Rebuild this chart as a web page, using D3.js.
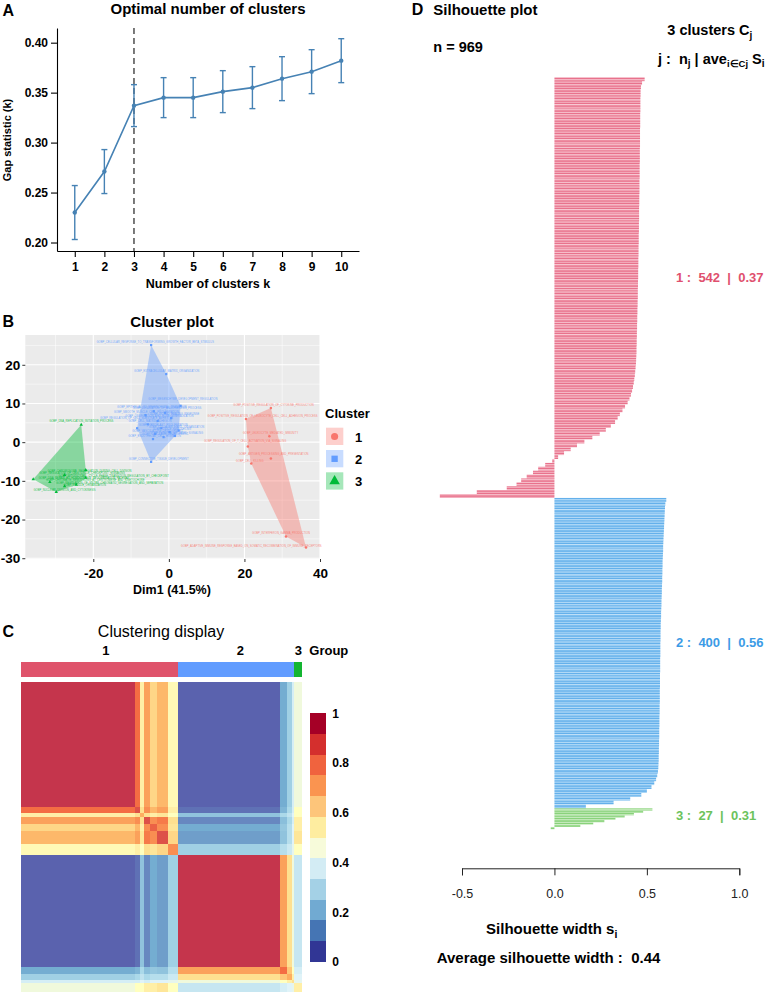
<!DOCTYPE html>
<html><head><meta charset="utf-8">
<script src="https://cdn.jsdelivr.net/npm/d3@7"></script>
<style>body{margin:0;background:#fff}svg{display:block}</style>
</head><body><svg id="c" width="768" height="995"></svg>
<script>
// ---------------- DATA ----------------
// Panel A: gap statistic
const kValues=[1,2,3,4,5,6,7,8,9,10];
const gapStat=[0.230,0.271,0.337,0.345,0.345,0.351,0.355,0.364,0.371,0.382];
const gapSE=[0.027,0.022,0.021,0.020,0.020,0.021,0.021,0.022,0.022,0.022];
const optimalK=3;
const gapTicks=[0.20,0.25,0.30,0.35,0.40];

// Panel B: cluster plot (Dim1, Dim2) per term, label centres
const clusterNames=["1","2","3"];
const pts1=[[27.0,8.8],[20.4,6.0],[26.6,1.5],[20.9,-1.1],[27.0,-4.2],[21.8,-5.5],[31.0,-24.4],[36.3,-27.2]];
const lab1=[[27.7,9.4],[24.8,6.6],[26.9,2.1],[20.2,0.0],[27.7,-3.4],[21.4,-5.0],[29.7,-23.8],[21.8,-27.0]];
const terms1=["GOBP_POSITIVE_REGULATION_OF_CYTOKINE_PRODUCTION","GOBP_POSITIVE_REGULATION_OF_LEUKOCYTE_CELL_CELL_ADHESION_PROCESS","GOBP_LEUKOCYTE_MEDIATED_IMMUNITY","GOBP_REGULATION_OF_T_CELL_ACTIVATION_VIA_SIGNALING","GOBP_ANTIGEN_PROCESSING_AND_PRESENTATION","GOBP_CELL_KILLING","GOBP_INTERFERON_GAMMA_PRODUCTION","GOBP_ADAPTIVE_IMMUNE_RESPONSE_BASED_ON_SOMATIC_RECOMBINATION_OF_IMMUNE_RECEPTORS"];
const pts2=[[-4.7,25.1],[-0.7,17.6],[3.1,9.4],[2.6,3.0],[-8.4,3.6],[-4.7,-5.1],[-4.0,8.0],[-1.0,7.6],[-6.2,7.0],[0.6,6.2],[-3.0,5.5],[-5.6,4.6],[-2.0,3.6],[0.2,2.6],[-3.6,2.1],[-1.4,1.3],[1.6,1.6],[-4.2,0.8]];
const lab2=[[-3.6,25.6],[-0.6,18.1],[3.7,11.0],[2.0,3.6],[-8.6,6.1],[-2.7,-4.6],[-4.5,8.8],[-0.5,8.5],[-6.0,7.6],[1.5,7.0],[-2.5,6.4],[-5.0,5.2],[-1.5,4.2],[0.8,3.2],[-3.0,2.7],[-1.0,1.9],[2.0,2.2],[-3.8,1.4]];
const terms2=["GOBP_CELLULAR_RESPONSE_TO_TRANSFORMING_GROWTH_FACTOR_BETA_STIMULUS","GOBP_EXTRACELLULAR_MATRIX_ORGANIZATION","GOBP_MESENCHYME_DEVELOPMENT_REGULATION","GOBP_COLLAGEN_FIBRIL_ORGANIZATION","GOBP_REGULATION_OF_CELL_SUBSTRATE_ADHESION","GOBP_CONNECTIVE_TISSUE_DEVELOPMENT","GOBP_EPITHELIAL_TO_MESENCHYMAL_TRANSITION","GOBP_REGULATION_OF_ANGIOGENESIS_PROCESS","GOBP_SMOOTH_MUSCLE_CELL_PROLIFERATION","GOBP_WOUND_HEALING_RESPONSE","GOBP_OSSIFICATION_AND_BONE_MINERALIZATION","GOBP_CELL_MATRIX_ADHESION","GOBP_FIBROBLAST_PROLIFERATION","GOBP_TISSUE_REMODELING","GOBP_VASCULATURE_DEVELOPMENT","GOBP_CARTILAGE_DEVELOPMENT","GOBP_INTEGRIN_MEDIATED_SIGNALING","GOBP_ENDOTHELIAL_CELL_MIGRATION"];
const pts3=[[-23.2,4.5],[-22.0,-7.2],[-22.0,-9.2],[-35.9,-9.6],[-24.5,-11.0],[-29.8,-12.9],[-27.6,-11.4],[-27.6,-8.5],[-31.5,-10.3]];
const lab3=[[-23.2,5.2],[-21.0,-7.6],[-14.6,-9.0],[-22.5,-9.5],[-15.7,-10.7],[-27.6,-12.5],[-22.3,-11.3],[-23.0,-8.1],[-19.5,-10.0]];
const terms3=["GOBP_DNA_REPLICATION_INITIATION_PROCESS","GOBP_CHROMOSOME_SEGREGATION_DURING_CELL_DIVISION","GOBP_MITOTIC_CELL_CYCLE_PHASE_TRANSITION_REGULATION_BY_CHECKPOINT","GOBP_DNA_REPAIR_BY_HOMOLOGOUS_RECOMBINATION_PATHWAY","GOBP_REGULATION_OF_SISTER_CHROMATID_SEGREGATION_AND_SEPARATION","GOBP_NUCLEAR_DIVISION_AND_CYTOKINESIS","GOBP_SPINDLE_ORGANIZATION","GOBP_REGULATION_OF_CELL_CYCLE_CHECKPOINT_SIGNALING","GOBP_CHROMATIN_REMODELING_AT_CENTROMERE_AND_KINETOCHORE"];
const dimXTicks=[-20,0,20,40];
const dimYTicks=[-30,-20,-10,0,10,20];
const dimXLabel="Dim1 (41.5%)";

// Panel C: consensus matrix, summarised by ordered sample segments
const segSizes=[392,17,14,21,24,38,36,349,24,17,10,27];
const segGroup=[1,1,1,1,1,1,1,2,2,2,2,3];
const consensus=[
 [0.90,0.80,0.55,0.72,0.62,0.68,0.52,0.10,0.20,0.28,0.38,0.45],
 [0.80,0.85,0.60,0.75,0.68,0.72,0.55,0.12,0.22,0.30,0.38,0.50],
 [0.55,0.60,0.70,0.60,0.55,0.58,0.50,0.25,0.30,0.34,0.40,0.50],
 [0.72,0.75,0.60,0.85,0.75,0.78,0.60,0.15,0.24,0.30,0.38,0.55],
 [0.62,0.68,0.55,0.75,0.82,0.75,0.58,0.20,0.26,0.32,0.40,0.55],
 [0.68,0.72,0.58,0.78,0.75,0.85,0.62,0.18,0.25,0.32,0.40,0.58],
 [0.52,0.55,0.50,0.60,0.58,0.62,0.75,0.28,0.32,0.36,0.42,0.50],
 [0.10,0.12,0.25,0.15,0.20,0.18,0.28,0.90,0.72,0.60,0.45,0.35],
 [0.20,0.22,0.30,0.24,0.26,0.25,0.32,0.72,0.80,0.65,0.50,0.38],
 [0.28,0.30,0.34,0.30,0.32,0.32,0.36,0.60,0.65,0.70,0.55,0.40],
 [0.38,0.38,0.40,0.38,0.40,0.40,0.42,0.45,0.50,0.55,0.60,0.42],
 [0.45,0.50,0.50,0.55,0.55,0.58,0.50,0.35,0.38,0.40,0.42,0.55]];
const legendTicks=[0,0.2,0.4,0.6,0.8,1];

// Panel D: silhouette widths (sorted, each value = an equal block of samples)
const silSizes=[542,400,27];
const silAvg=["0.37","0.56","0.31"];
const silOverall="0.44";
const nTotal=969;
const sil1=[0.488,0.474,0.468,
 0.466,0.466,0.465,0.465,0.465,0.465,0.464,0.464,
 0.464,0.464,0.463,0.463,0.463,0.463,0.463,0.462,0.462,0.462,
 0.462,0.461,0.461,0.461,0.461,0.460,0.460,0.460,0.460,0.459,
 0.459,0.459,0.458,0.458,0.458,0.458,0.457,0.457,0.457,0.456,
 0.456,0.456,0.455,0.455,0.455,0.454,0.454,0.454,0.453,0.453,
 0.453,0.452,0.452,0.451,0.451,0.451,0.450,0.450,0.449,0.449,
 0.448,0.448,0.447,0.447,0.446,0.446,0.445,0.445,0.444,0.444,
 0.443,0.442,0.441,0.439,0.437,0.435,0.432,0.429,0.425,0.420,
 0.414,0.406,0.396,0.382,0.368,0.354,0.342,0.328,0.305,0.278,
 0.245,0.205,0.162,0.122,0.088,0.052,0.020,
 -0.012,-0.050,-0.088,-0.116,-0.150,-0.180,-0.205,-0.258,-0.420,-0.620];
const sil2=[0.605,0.600,
 0.598,0.597,0.596,0.595,0.594,0.593,0.592,0.591,0.590,0.589,0.588,0.588,0.587,0.586,
 0.585,0.585,0.584,0.584,0.583,0.583,0.582,0.581,0.581,0.580,0.579,0.579,0.578,0.577,0.577,0.576,0.575,0.575,
 0.574,0.574,0.574,0.573,0.573,0.573,0.573,0.572,0.572,0.572,0.572,0.571,0.571,0.571,0.571,0.570,0.570,
 0.570,0.570,0.569,0.569,0.569,0.568,0.568,0.568,0.567,0.567,0.567,0.566,0.566,0.565,0.565,0.564,0.564,
 0.563,0.562,0.560,0.556,0.550,0.540,0.525,0.500,0.470,0.410,0.320,0.170];
const sil3=[0.53,0.48,0.43,0.38,0.33,0.27,0.21,0.14,-0.02];
const silTicks=[-0.5,0.0,0.5,1.0];

// ---------------- DRAWING ----------------
const FONT='"Liberation Sans", Arial, Helvetica, sans-serif';
const svg=d3.select("#c").attr("font-family",FONT);
const defs=svg.append("defs");
function txt(g,x,y,s,size,weight,anchor,fill){
  return g.append("text").attr("x",x).attr("y",y).text(s).attr("font-size",size)
   .attr("font-weight",weight||"normal").attr("text-anchor",anchor||"start").attr("fill",fill||"#000");
}
function styleAxis(g,size,weight,color,lineColor){
  g.attr("font-family",FONT).attr("font-size",size).attr("font-weight",weight);
  g.selectAll("text").attr("fill",color);
  g.selectAll("line,path").attr("stroke",lineColor);
}

// ===== Panel A =====
const gA=svg.append("g");
const xA=d3.scaleLinear().domain([0.4,10.6]).range([57,359]);
const yA=d3.scaleLinear().domain([0.1915,0.4147]).range([251,28]);
const ax=gA.append("g").attr("transform","translate(0,251)")
 .call(d3.axisBottom(xA).tickValues(kValues).tickSize(6).tickSizeOuter(0).tickPadding(5).tickFormat(d3.format("d")));
styleAxis(ax,12,"bold","#000","#000"); ax.selectAll("path,line").attr("stroke-width",1.1);
const ay=gA.append("g").attr("transform","translate(57,0)")
 .call(d3.axisLeft(yA).tickValues(gapTicks).tickSize(6).tickSizeOuter(0).tickPadding(3).tickFormat(d3.format(".2f")));
styleAxis(ay,12,"bold","#000","#000"); ay.selectAll("path,line").attr("stroke-width",1.1);
gA.append("line").attr("x1",xA(optimalK)).attr("x2",xA(optimalK)).attr("y1",yA.range()[1]).attr("y2",yA.range()[0])
 .attr("stroke","#333").attr("stroke-width",1.3).attr("stroke-dasharray","6,4");
const blue="#4682B4";
gA.append("path").datum(kValues).attr("fill","none").attr("stroke",blue).attr("stroke-width",1.6)
 .attr("d",d3.line().x(k=>xA(k)).y((k,i)=>yA(gapStat[i])));
kValues.forEach((k,i)=>{
  const x=xA(k),lo=yA(gapStat[i]-gapSE[i]),hi=yA(gapStat[i]+gapSE[i]);
  gA.append("line").attr("x1",x).attr("x2",x).attr("y1",lo).attr("y2",hi).attr("stroke",blue).attr("stroke-width",1.4);
  [lo,hi].forEach(y=>gA.append("line").attr("x1",x-3).attr("x2",x+3).attr("y1",y).attr("y2",y).attr("stroke",blue).attr("stroke-width",1.4));
  gA.append("circle").attr("cx",x).attr("cy",yA(gapStat[i])).attr("r",2.2).attr("fill",blue);
});
txt(gA,2.5,15.5,"A",16,"bold");
txt(gA,208,14,"Optimal number of clusters",15,"bold","middle");
txt(gA,208,288.3,"Number of clusters k",12.5,"bold","middle");
gA.append("text").attr("transform","translate(11,140) rotate(-90)").attr("text-anchor","middle")
 .attr("font-size",11).attr("font-weight","bold").text("Gap statistic (k)");

// ===== Panel B =====
const gB=svg.append("g");
const xB=d3.scaleLinear().domain([-38.0,40]).range([25.3,320]);
const yB=d3.scaleLinear().domain([-30.2,27.7]).range([559,335]);
gB.append("rect").attr("x",xB.range()[0]).attr("y",yB.range()[1]).attr("width",xB.range()[1]-xB.range()[0])
 .attr("height",yB.range()[0]-yB.range()[1]).attr("fill","#EBEBEB");
const minorX=[-30,-10,10,30], minorY=[-25,-15,-5,5,15,25];
minorX.forEach(v=>gB.append("line").attr("x1",xB(v)).attr("x2",xB(v)).attr("y1",yB.range()[1]).attr("y2",yB.range()[0]).attr("stroke","#fff").attr("stroke-width",0.5));
minorY.forEach(v=>gB.append("line").attr("y1",yB(v)).attr("y2",yB(v)).attr("x1",xB.range()[0]).attr("x2",xB.range()[1]).attr("stroke","#fff").attr("stroke-width",0.5));
dimXTicks.forEach(v=>gB.append("line").attr("x1",xB(v)).attr("x2",xB(v)).attr("y1",yB.range()[1]).attr("y2",yB.range()[0]).attr("stroke","#fff").attr("stroke-width",1.1));
dimYTicks.forEach(v=>gB.append("line").attr("y1",yB(v)).attr("y2",yB(v)).attr("x1",xB.range()[0]).attr("x2",xB.range()[1]).attr("stroke","#fff").attr("stroke-width",1.1));
const cCols=["#F8766D","#619CFF","#00BA38"];
const allPts=[pts1,pts2,pts3], allLab=[lab1,lab2,lab3], allTerms=[terms1,terms2,terms3];
const symTypes=[d3.symbolCircle,d3.symbolSquare,d3.symbolTriangle];
allPts.forEach((pts,ci)=>{
  const hull=d3.polygonHull(pts.map(p=>[xB(p[0]),yB(p[1])]));
  gB.append("path").attr("d","M"+hull.join("L")+"Z").attr("fill",cCols[ci]).attr("fill-opacity",0.42).attr("stroke","none");
});
allPts.forEach((pts,ci)=>{
  pts.forEach((p,i)=>{
    gB.append("path").attr("d",d3.symbol().type(symTypes[ci]).size(5)()).attr("transform",`translate(${xB(p[0])},${yB(p[1])})`).attr("fill",cCols[ci]);
    const l=allLab[ci][i];
    gB.append("text").attr("x",xB(l[0])).attr("y",yB(l[1])).attr("text-anchor","middle").attr("font-size",2.7)
     .attr("fill",cCols[ci]).attr("fill-opacity",0.9).text(allTerms[ci][i]);
  });
});
const bx=gB.append("g").attr("transform",`translate(0,${yB.range()[0]})`)
 .call(d3.axisBottom(xB).tickValues(dimXTicks).tickSize(3).tickPadding(6).tickFormat(d=>String(d)));
styleAxis(bx,13.5,"bold","#000","#333"); bx.select(".domain").remove();
const by=gB.append("g").attr("transform",`translate(${xB.range()[0]},0)`)
 .call(d3.axisLeft(yB).tickValues(dimYTicks).tickSize(3).tickPadding(2).tickFormat(d=>String(d)));
styleAxis(by,13.5,"bold","#000","#333"); by.select(".domain").remove();
txt(gB,2.5,327.3,"B",16,"bold");
txt(gB,172,327.4,"Cluster plot",15,"bold","middle");
txt(gB,172,594,dimXLabel,12.5,"bold","middle");
txt(gB,325,418,"Cluster",13,"bold");
const keyY=[427.7,450,472.3];
clusterNames.forEach((n,ci)=>{
  gB.append("rect").attr("x",326).attr("y",keyY[ci]).attr("width",17.3).attr("height",17.3).attr("fill",cCols[ci]).attr("fill-opacity",0.35);
  gB.append("path").attr("d",d3.symbol().type(symTypes[ci]).size(ci===2?48:40)()).attr("transform",`translate(334.6,${keyY[ci]+8.8})`).attr("fill",cCols[ci]);
  txt(gB,355,keyY[ci]+13.9,n,13,"bold");
});

// ===== Panel C =====
const gC=svg.append("g");
const nS=d3.sum(segSizes);
const hx=d3.scaleLinear().domain([0,nS]).range([21.3,302.3]);
const hy=d3.scaleLinear().domain([0,nS]).range([681.7,991.7]);
const cum=[0]; segSizes.forEach(s=>cum.push(cum[cum.length-1]+s));
const heatCol=d3.scaleLinear().domain([0,0.1,0.2,0.3,0.4,0.5,0.6,0.7,0.8,0.9,1])
 .range(["#313695","#5A62AE","#74ADD1","#ABD9E9","#E0F3F8","#FFFFBF","#FEE090","#FDAE61","#F46D43","#C5354C","#A50026"]);
consensus.forEach((row,i)=>row.forEach((v,j)=>{
  gC.append("rect").attr("x",hx(cum[j])).attr("y",hy(cum[i])).attr("width",hx(cum[j+1])-hx(cum[j]))
   .attr("height",hy(cum[i+1])-hy(cum[i])).attr("fill",heatCol(v)).attr("shape-rendering","crispEdges");
}));
const groupCols=["#DF536B","#619CFF","#13B531"];
const gSizes=[0,0,0]; segSizes.forEach((s,i)=>gSizes[segGroup[i]-1]+=s);
let go=0;
gSizes.forEach((s,gi)=>{
  gC.append("rect").attr("x",hx(go)).attr("y",662.3).attr("width",hx(go+s)-hx(go)).attr("height",14.4).attr("fill",groupCols[gi]).attr("shape-rendering","crispEdges");
  txt(gC,hx(go+s/2)+(gi===0?6:gi===1?4:0),655,clusterNames[gi],13,"bold","middle");
  go+=s;
});
txt(gC,309.3,655,"Group",13,"bold");
txt(gC,2.5,636.7,"C",16,"bold");
txt(gC,161,636.5,"Clustering display",16,"normal","middle");
const legColsFixed=["#313695","#4575B4","#71AAD2","#A4D1E6","#D3ECF4","#F7FBDA","#FEEDA0","#FDC57A","#FA9450","#F0633E","#D42F2D","#A50026"];
const ly=d3.scaleLinear().domain([0,1]).range([961.7,713.3]);
legColsFixed.forEach((c,i)=>{
  gC.append("rect").attr("x",309.7).attr("width",16).attr("y",ly((i+1)/12)).attr("height",ly(i/12)-ly((i+1)/12)).attr("fill",c).attr("shape-rendering","crispEdges");
});
legendTicks.forEach(v=>txt(gC,332.3,ly(v)+4.5,String(v),12,"bold"));

// ===== Panel D =====
const gD=svg.append("g");
const xD=d3.scaleLinear().domain([-0.5,1.0]).range([462,739.3]);
const yD=d3.scaleLinear().domain([0,nTotal]).range([77.3,829.3]);
const silAll=[sil1,sil2,sil3];
const silLight=["#F3A6B7","#93CCF4","#AEE3A2"];
const silDark=["#E45B78","#4EA4E8","#79CB69"];
const silText=["#E0506E","#3C9BE6","#6CC35C"];
silLight.forEach((c,i)=>{
  const p=defs.append("pattern").attr("id","stripe"+i).attr("patternUnits","userSpaceOnUse").attr("width",8).attr("height",2.5);
  p.append("rect").attr("width",8).attr("height",2.5).attr("fill",c);
  p.append("rect").attr("y",0.6).attr("width",8).attr("height",0.95).attr("fill",silDark[i]);
  p.append("rect").attr("y",2.15).attr("width",8).attr("height",0.35).attr("fill","#fff").attr("fill-opacity",0.7);
});
let off=0;
silAll.forEach((vals,ci)=>{
  const cnt=silSizes[ci]/vals.length;
  vals.forEach((v,b)=>{
    const y0=yD(off+b*cnt), y1=yD(off+(b+1)*cnt), h=y1-y0;
    const x0=Math.min(xD(0),xD(v)), w=Math.abs(xD(v)-xD(0));
    gD.append("rect").attr("x",x0).attr("width",w).attr("y",y0).attr("height",h).attr("fill",`url(#stripe${ci})`);
  });
  const mid=yD(off+silSizes[ci]/2);
  const by0=silSizes[ci]>100? mid-6 : mid+1;
  gD.append("text").attr("x",676).attr("y",by0).attr("font-size",13).attr("font-weight","bold").attr("fill",silText[ci])
   .style("white-space","pre").text(`${ci+1} :  ${silSizes[ci]}  |  ${silAvg[ci]}`);
  off+=silSizes[ci];
});
const dx=gD.append("g").attr("transform","translate(0,868.3)")
 .call(d3.axisBottom(xD).tickValues(silTicks).tickSize(7).tickPadding(14).tickFormat(d=>d.toFixed(1)));
styleAxis(dx,12.5,"normal","#222","#222");
txt(gD,411.7,15,"D",16,"bold");
txt(gD,433.3,15,"Silhouette plot",15,"bold");
txt(gD,433.3,51.7,"n = "+nTotal,14.5,"bold");
const t1=txt(gD,667.3,35,"3 clusters C",14.5,"bold");
t1.append("tspan").attr("dy",3.5).attr("font-size",10).text("j");
const t2=gD.append("text").attr("x",658).attr("y",63.5).attr("font-size",14.5).attr("font-weight","bold").style("white-space","pre");
t2.append("tspan").text("j :  n");
t2.append("tspan").attr("dy",3.5).attr("font-size",10).text("j");
t2.append("tspan").attr("dy",-3.5).text(" | ave");
t2.append("tspan").attr("dy",3.5).attr("font-size",9.5).text("i\u2208Cj");
t2.append("tspan").attr("dy",-3.5).text(" S");
t2.append("tspan").attr("dy",3.5).attr("font-size",10).text("i");
const t3=txt(gD,551.7,934,"Silhouette width s",15,"bold","middle");
t3.append("tspan").attr("dy",3.5).attr("font-size",10.5).text("i");
txt(gD,436.7,963,"Average silhouette width :  "+silOverall,15,"bold").style("white-space","pre");
</script></body></html>
